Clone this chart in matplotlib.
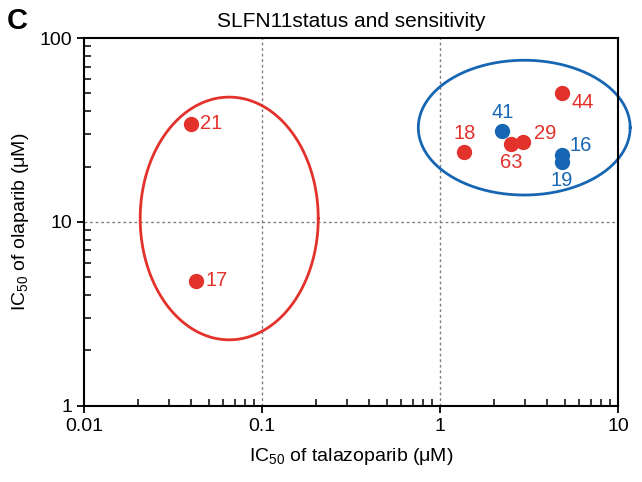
import matplotlib
matplotlib.use('Agg')
import matplotlib.pyplot as plt
import numpy as np
from matplotlib.ticker import FixedLocator, FixedFormatter, LogLocator, NullFormatter

plt.rcParams['font.family'] = ['Liberation Sans', 'DejaVu Sans']
plt.rcParams['mathtext.default'] = 'regular'

vermelho = '#e3312b'
azul = '#1766b3'

# dados (IC50 talazoparib, IC50 olaparib)
rotulos = ['21', '17', '18', '63', '29', '44', '41', '16', '19']
tala = [0.040, 0.0426, 1.36, 2.51, 2.92, 4.84, 2.23, 4.84, 4.84]
olap = [34.1, 4.78, 24.0, 26.6, 27.2, 50.2, 31.3, 23.1, 21.2]
grupo = ['r', 'r', 'r', 'r', 'r', 'r', 'b', 'b', 'b']

# deslocamento do texto em pixels (dx, dy)
desloc = [(9, 0, 'left'), (9, 0, 'left'), (1, 19, 'center'), (0, -19, 'center'),
          (22, 9, 'center'), (21, -9, 'center'), (0, 18, 'center'),
          (19, 10, 'center'), (0, -19, 'center')]

# elipses em espaço log: centro (log x, log y), largura, altura (décadas)
elipses = [((-1.185, 1.019), 1.0, 1.32, vermelho),
           ((0.472, 1.513), 1.19, 0.733, azul)]

fig = plt.figure(figsize=(6.42, 4.82), dpi=100)
ax = fig.add_axes([0.131, 0.158, 0.832, 0.763])
ax.set_xscale('log')
ax.set_yscale('log')
ax.set_xlim(0.01, 10)
ax.set_ylim(1, 100)

# grade pontilhada
for gx in [0.1, 1]:
    ax.axvline(gx, color='gray', ls=(0, (2, 2)), lw=1, zorder=0)
ax.axhline(10, color='gray', ls=(0, (2, 2)), lw=1, zorder=0)

# elipses
t = np.linspace(0, 2 * np.pi, 300)
for (cx, cy), w, h, cor in elipses:
    ex = 10 ** (cx + w / 2 * np.cos(t))
    ey = 10 ** (cy + h / 2 * np.sin(t))
    ax.plot(ex, ey, color=cor, lw=2, clip_on=False, zorder=2)

# pontos
for i in range(len(rotulos)):
    cor = vermelho if grupo[i] == 'r' else azul
    ax.plot(tala[i], olap[i], 'o', ms=10, color=cor, mec=cor, zorder=3)
    dx, dy, ha = desloc[i]
    ax.annotate(rotulos[i], (tala[i], olap[i]), xytext=(dx * 0.72, dy * 0.72),
                textcoords='offset points', ha=ha, va='center',
                color=cor, fontsize=14.5, zorder=4)

ax.xaxis.set_major_locator(FixedLocator([0.01, 0.1, 1, 10]))
ax.xaxis.set_major_formatter(FixedFormatter(['0.01', '0.1', '1', '10']))
ax.yaxis.set_major_locator(FixedLocator([1, 10, 100]))
ax.yaxis.set_major_formatter(FixedFormatter(['1', '10', '100']))
ax.xaxis.set_minor_locator(LogLocator(base=10, subs=np.arange(2, 10)))
ax.yaxis.set_minor_locator(LogLocator(base=10, subs=np.arange(2, 10)))
ax.xaxis.set_minor_formatter(NullFormatter())
ax.yaxis.set_minor_formatter(NullFormatter())
ax.tick_params(which='major', direction='out', length=5, width=1.3, labelsize=14)
ax.tick_params(which='minor', direction='in', length=5, width=1.1)

for s in ax.spines.values():
    s.set_linewidth(1.5)

ax.set_xlabel('IC$_{50}$ of talazoparib ($\\mu$M)', fontsize=14, labelpad=8)
ax.set_ylabel('IC$_{50}$ of olaparib ($\\mu$M)', fontsize=14, labelpad=6)
ax.set_title('SLFN11status and sensitivity', fontsize=15, pad=8)
fig.text(0.01, 0.985, 'C', fontsize=21, fontweight='bold', va='top', ha='left')

fig.savefig('out.png', dpi=100)
